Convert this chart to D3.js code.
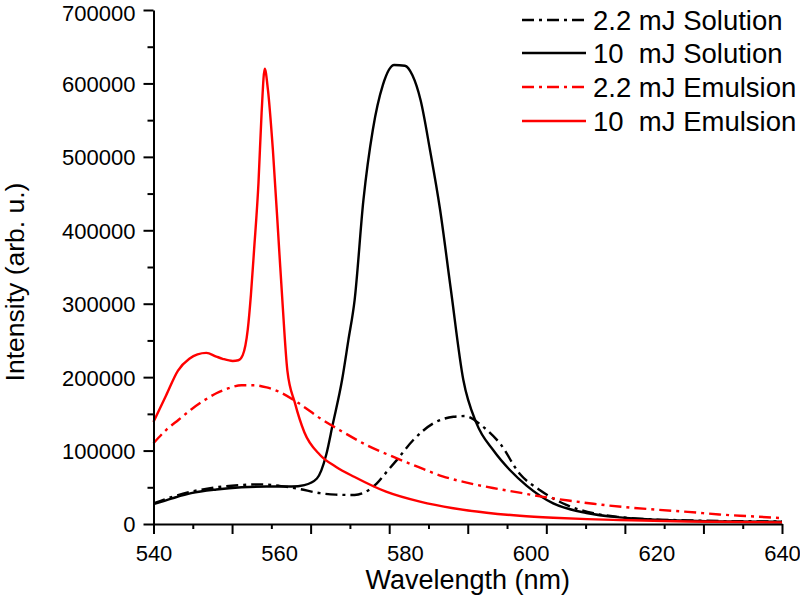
<!DOCTYPE html>
<html>
<head>
<meta charset="utf-8">
<script src="https://cdn.jsdelivr.net/npm/d3@7"></script>
<style>
  html, body { margin: 0; padding: 0; background: #fff; }
  svg text { font-family: "Liberation Sans", Arial, sans-serif; fill: #000; }
</style>
</head>
<body>
<svg id="chart" width="800" height="599"></svg>
<script>
// ---- Data ----
const seriesNames = ["2.2 mJ Solution", "10  mJ Solution", "2.2 mJ Emulsion", "10  mJ Emulsion"];
const seriesColors = ["#000000", "#000000", "#ff0000", "#ff0000"];
const seriesDashed = [true, false, true, false];

const sol22X = [540, 543, 546, 550, 554, 557, 560, 563, 566.5, 569, 572, 574, 575.5, 577, 578.7, 581.3, 584.5, 587.7, 589.5, 592.5, 595.1, 598.3, 601.5, 605.7, 610, 614.2, 620, 625, 630, 640];
const sol22Y = [28000, 37000, 44000, 50000, 53000, 54000, 52000, 48000, 42000, 40000, 39500, 45000, 55000, 70000, 87000, 114000, 137000, 146000, 147000, 132000, 110000, 68000, 46000, 26000, 14600, 9500, 6000, 5000, 4000, 3500];

const sol10X = [540, 543, 546, 550, 554, 558, 562, 564, 566, 567.5, 568.5, 570, 571, 572, 573.4, 574.9, 576.5, 578.3, 580, 581.2, 582.5, 584, 585.6, 587.3, 589.3, 591.4, 594.1, 596.7, 599.4, 603.6, 608.9, 614.2, 620, 625, 630, 640];
const sol10Y = [27000, 35000, 42000, 47000, 50000, 51000, 51000, 53000, 62000, 95000, 135000, 196000, 250000, 305000, 441000, 537000, 598000, 625000, 624000, 611000, 577000, 509000, 428000, 320000, 196000, 137000, 100000, 73500, 52000, 28000, 15000, 9000, 6000, 4500, 3500, 3000];

const emu22X = [540, 542, 544, 546, 548, 550, 552, 554, 556, 558, 560, 563, 566.5, 570, 574, 578, 582, 586, 590, 594, 598, 602, 606, 610, 615, 620, 625, 630, 635, 640];
const emu22Y = [110000, 128000, 142000, 156000, 168000, 178000, 185000, 189000, 189000, 186000, 180000, 165000, 144000, 126000, 107000, 92000, 78000, 65000, 56000, 49000, 43000, 37000, 32000, 27500, 23000, 19500, 16500, 13000, 10500, 8000];

const emu10X = [540, 542, 543.9, 545.7, 547, 548.4, 550, 551, 552.6, 553.5, 554.2, 555, 555.5, 556, 556.7, 557.2, 557.7, 558.2, 559, 560, 560.5, 561.3, 562.5, 564, 566.5, 569, 572, 577, 582.4, 587.7, 593, 598.3, 603.6, 609, 614.2, 625, 640];
const emu10Y = [139000, 175000, 209000, 225000, 231000, 233000, 228000, 225000, 222000, 223000, 230000, 265000, 312000, 373000, 464000, 560000, 620000, 592000, 509000, 373000, 305000, 209000, 165000, 125000, 94000, 78000, 64000, 44000, 30400, 21400, 15400, 11300, 8600, 6600, 5400, 3500, 2000];

const seriesX = [sol22X, sol10X, emu22X, emu10X];
const seriesY = [sol22Y, sol10Y, emu22Y, emu10Y];

const yMajorTicks = [0, 100000, 200000, 300000, 400000, 500000, 600000, 700000];
const yMinorTicks = [50000, 150000, 250000, 350000, 450000, 550000, 650000];
const xLabelTicks = [540, 560, 580, 600, 620, 640];
const xMajorTicks = [540, 552.5, 565, 577.5, 590, 602.5, 615, 627.5, 640];
const xMinorTicks = [546.25, 558.75, 571.25, 583.75, 596.25, 608.75, 621.25, 633.75];

const xTitle = "Wavelength (nm)";
const yTitle = "Intensity (arb. u.)";

// ---- Drawing ----
const svg = d3.select("#chart");
const x = d3.scaleLinear().domain([540, 640]).range([153.5, 782]);
const y = d3.scaleLinear().domain([0, 700000]).range([524, 10]);

const lineGen = d3.line().curve(d3.curveMonotoneX);

const plot = svg.append("g");
seriesNames.forEach((name, i) => {
  const pts = seriesX[i].map((v, j) => [x(v), y(seriesY[i][j])]);
  plot.append("path")
    .attr("d", lineGen(pts))
    .attr("fill", "none")
    .attr("stroke", seriesColors[i])
    .attr("stroke-width", 2.4)
    .attr("stroke-linejoin", "round")
    .attr("stroke-dasharray", seriesDashed[i] ? "12,5,3,5" : null);
});

function styleAxis(g) {
  g.selectAll("path.domain").attr("stroke", "#000").attr("stroke-width", 2);
  g.selectAll(".tick line").attr("stroke", "#000").attr("stroke-width", 2);
}

// Y axis
const yAxisG = svg.append("g").attr("transform", "translate(153.5,0)");
yAxisG.call(d3.axisLeft(y).tickValues(yMajorTicks).tickSize(10).tickSizeOuter(0).tickPadding(8).tickFormat(d3.format("d")))
  .call(styleAxis);
yAxisG.selectAll(".tick text").style("font-size", "22px").attr("dy", "0.36em");
// keep the top label fully inside the picture
yAxisG.selectAll(".tick text").filter(d => d === 700000).attr("y", 3).attr("x", -18);
svg.append("g").attr("transform", "translate(153.5,0)")
  .call(d3.axisLeft(y).tickValues(yMinorTicks).tickSize(6).tickSizeOuter(0).tickFormat(""))
  .call(styleAxis)
  .select("path.domain").remove();

// X axis
const xAxisG = svg.append("g").attr("transform", "translate(0,524)");
xAxisG.call(d3.axisBottom(x).tickValues(xMajorTicks).tickSize(10).tickSizeOuter(0).tickFormat(""))
  .call(styleAxis);
svg.append("g").attr("transform", "translate(0,524)")
  .call(d3.axisBottom(x).tickValues(xMinorTicks).tickSize(5).tickSizeOuter(0).tickFormat(""))
  .call(styleAxis)
  .select("path.domain").remove();
const xLab = svg.append("g").attr("transform", "translate(0,524)")
  .call(d3.axisBottom(x).tickValues(xLabelTicks).tickSize(0).tickSizeOuter(0).tickPadding(21));
xLab.select("path.domain").remove();
xLab.selectAll(".tick text").style("font-size", "22px");

// Titles
svg.append("text")
  .attr("x", 467.7).attr("y", 589)
  .attr("text-anchor", "middle")
  .style("font-size", "27px")
  .text(xTitle);
svg.append("text")
  .attr("transform", "translate(24,282) rotate(-90)")
  .attr("text-anchor", "middle")
  .style("font-size", "26.5px")
  .text(yTitle);

// Legend
const legendY = [20, 53, 87, 121];
const legend = svg.append("g");
seriesNames.forEach((name, i) => {
  legend.append("line")
    .attr("x1", 522).attr("x2", 586)
    .attr("y1", legendY[i]).attr("y2", legendY[i])
    .attr("stroke", seriesColors[i])
    .attr("stroke-width", 2.4)
    .attr("stroke-dasharray", seriesDashed[i] ? "12,5,3,5" : null);
  legend.append("text")
    .attr("x", 593).attr("y", legendY[i])
    .attr("dy", "0.35em")
    .style("font-size", "27.5px")
    .style("white-space", "pre")
    .attr("xml:space", "preserve")
    .text(name);
});
</script>
</body>
</html>
